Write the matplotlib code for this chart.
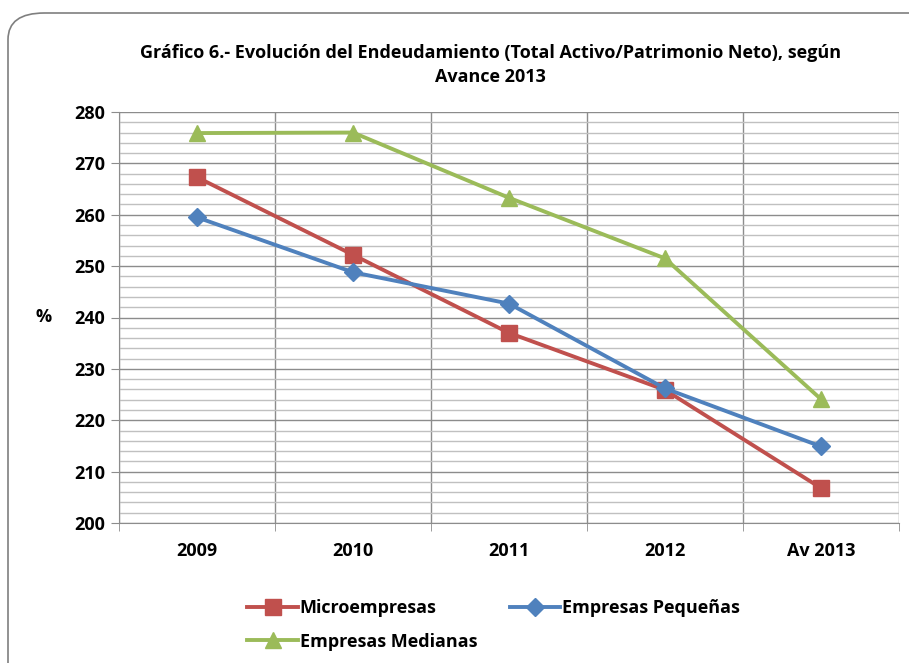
import matplotlib
matplotlib.use('Agg')
import matplotlib.pyplot as plt
from matplotlib.patches import FancyBboxPatch
from matplotlib.ticker import MultipleLocator

plt.rcParams['font.family'] = ['Open Sans', 'DejaVu Sans']
plt.rcParams['font.weight'] = 'bold'

# Datos del endeudamiento (%)
anios = ['2009', '2010', '2011', '2012', 'Av 2013']
micro = [267.3, 252.2, 237.0, 225.9, 206.8]
pequenas = [259.5, 248.8, 242.7, 226.2, 214.9]
medianas = [275.9, 276.0, 263.3, 251.5, 224.1]

fig = plt.figure(figsize=(9.09, 6.63), dpi=100)

# Marco redondeado del grafico
marco = FancyBboxPatch((8 / 909, 0.0 - 0.05), 0.99 - 8 / 909 + 0.05, (650 / 663) + 0.05,
                       boxstyle='round,pad=0,rounding_size=0.04', transform=fig.transFigure,
                       facecolor='white', edgecolor='#7f7f7f', linewidth=1.2, zorder=-10)
fig.patches.append(marco)

ax = fig.add_axes([119 / 909, 1 - 523 / 663, 780 / 909, 411 / 663])
x = list(range(len(anios)))

l1, = ax.plot(x, micro, color='#C0504D', lw=2.8, marker='s', ms=11, label='Microempresas', zorder=3)
l2, = ax.plot(x, pequenas, color='#4F81BD', lw=2.8, marker='D', ms=9, label='Empresas Pequeñas', zorder=4)
l3, = ax.plot(x, medianas, color='#9BBB59', lw=2.8, marker='^', ms=12, label='Empresas Medianas', zorder=3)

ax.set_xlim(-0.5, 4.5)
ax.set_ylim(200, 280)
ax.yaxis.set_major_locator(MultipleLocator(10))
ax.yaxis.set_minor_locator(MultipleLocator(2))
ax.set_xticks(x)
ax.set_xticklabels(anios, fontweight='bold')
ax.set_xticks([i - 0.5 for i in range(len(anios) + 1)], minor=True)
for t in ax.get_yticklabels():
    t.set_fontweight('bold')

# Rejilla
ax.grid(which='major', axis='y', color='#8c8c8c', lw=1.0)
ax.grid(which='minor', axis='y', color='#c0c0c0', lw=1.0)
ax.grid(which='minor', axis='x', color='#8c8c8c', lw=1.0)
ax.set_axisbelow(True)

for s in ['top', 'right']:
    ax.spines[s].set_visible(False)
ax.spines['left'].set_color('#8c8c8c')
ax.spines['bottom'].set_color('#8c8c8c')

ax.tick_params(axis='x', which='major', length=0, pad=14, labelsize=13)
ax.tick_params(axis='x', which='minor', length=6, color='#8c8c8c')
ax.tick_params(axis='y', which='major', length=6, color='#8c8c8c', labelsize=13, pad=4)
ax.tick_params(axis='y', which='minor', length=0)

ax.set_ylabel('%', rotation=0, fontsize=13, fontweight='bold', labelpad=22, va='center')

fig.text(0.54, 1 - 53 / 663, 'Gráfico 6.- Evolución del Endeudamiento (Total Activo/Patrimonio Neto), según',
         ha='center', va='center', fontsize=13, fontweight='bold')
fig.text(0.54, 1 - 77 / 663, 'Avance 2013', ha='center', va='center', fontsize=13, fontweight='bold')

# orden por columnas para que la fila 1 sea Micro / Pequeñas
fig.legend([l1, l3, l2], [l1.get_label(), l3.get_label(), l2.get_label()],
           loc='upper left', bbox_to_anchor=(240 / 909, 1 - 592 / 663), ncol=2, frameon=False,
           prop={'size': 13, 'weight': 'bold'}, handlelength=2.8, columnspacing=1.8,
           handletextpad=0.1, labelspacing=0.85, borderaxespad=0)

fig.savefig('out.png', dpi=100)
